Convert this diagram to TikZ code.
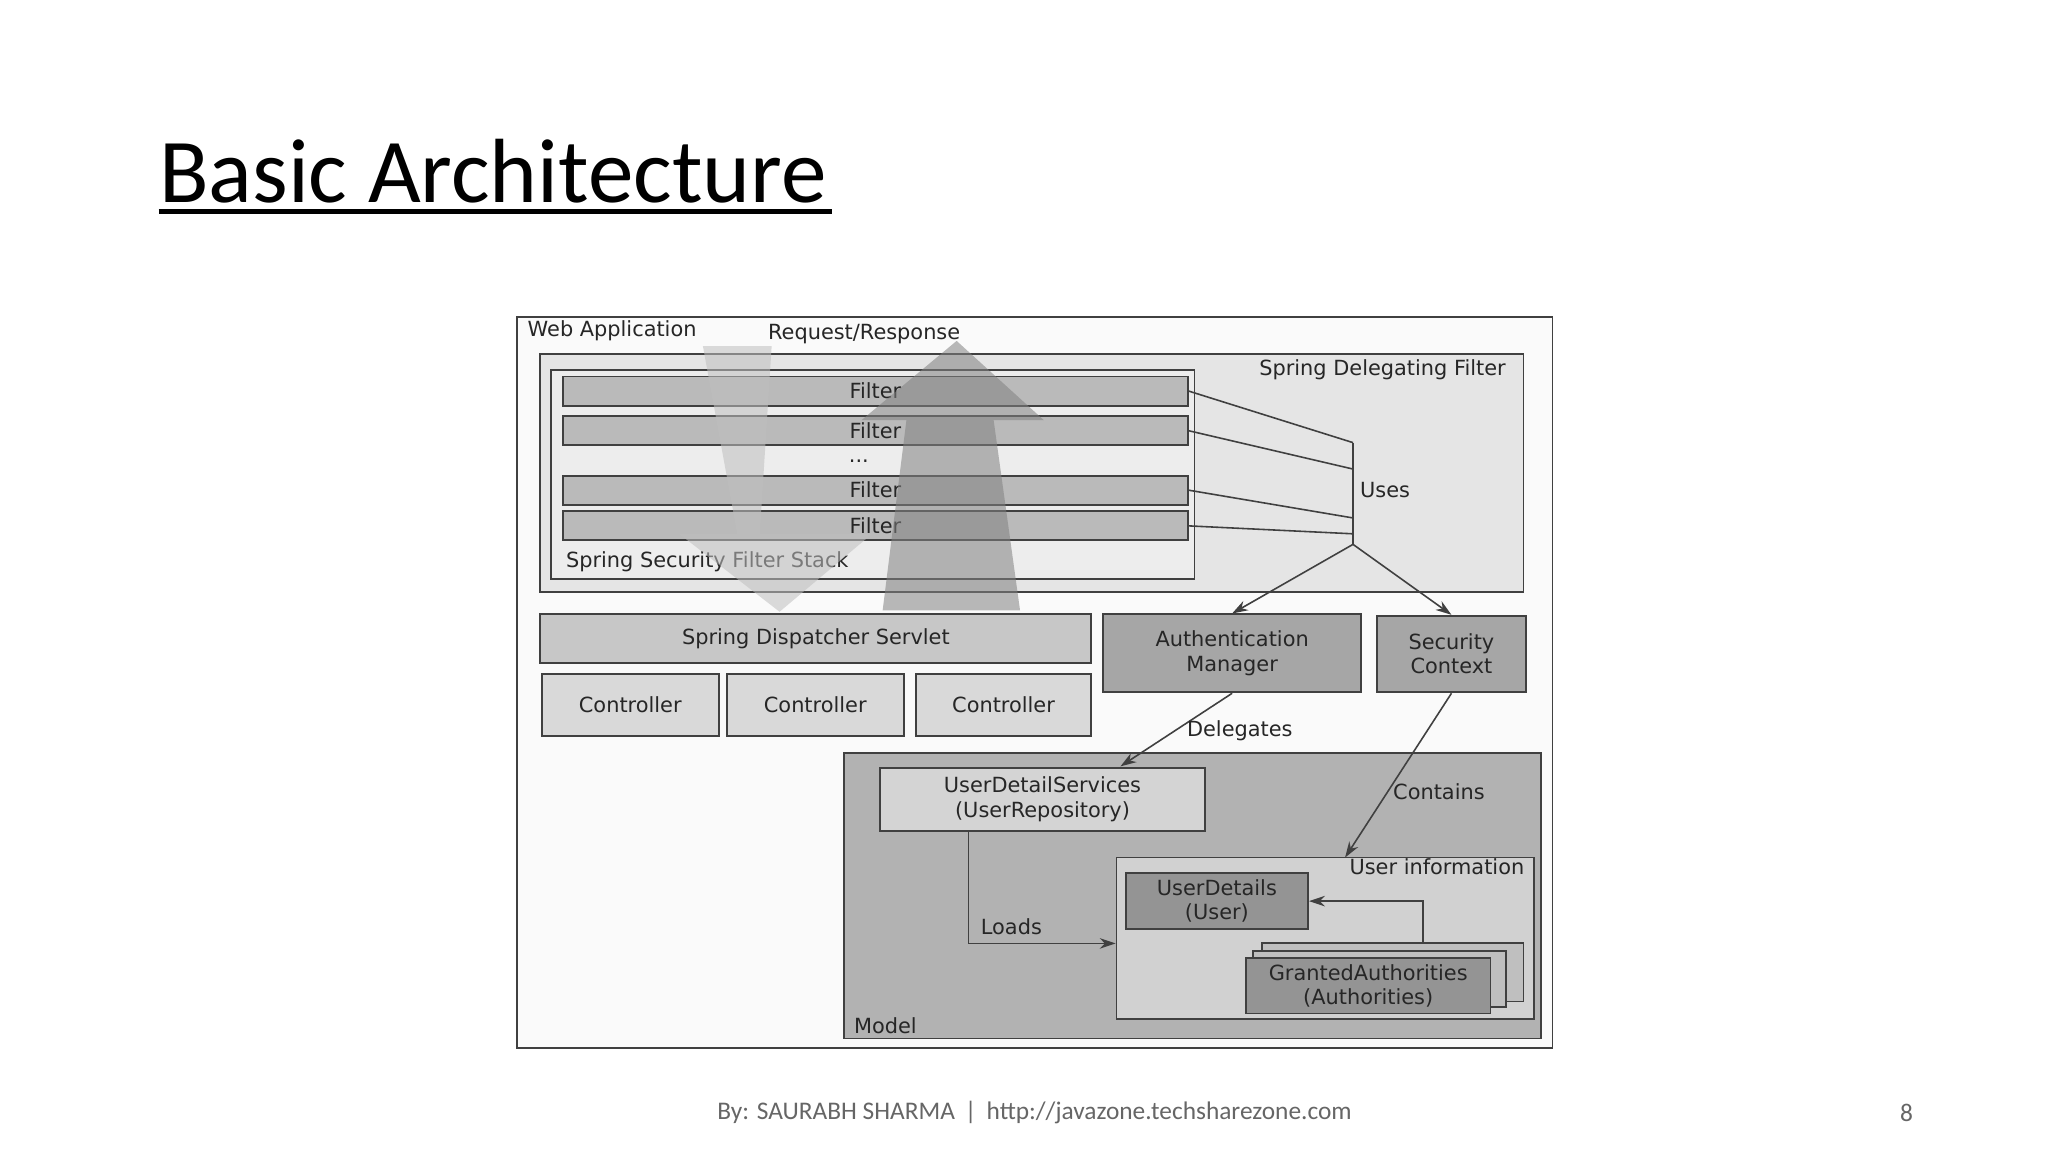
\documentclass[tikz,border=0pt]{standalone}
\usepackage{fontspec}
\setmainfont{DejaVu Sans}
\newfontfamily\carl{Carlito}
\usetikzlibrary{arrows.meta}
\begin{document}
\begin{tikzpicture}[x=0.5pt,y=-0.5pt,
  bx/.style={draw=black!75,line width=0.7pt},
  lbl/.style={font=\fontsize{7.9}{9.2}\selectfont,text=black!85,inner sep=1pt},
  ln/.style={draw=black!75,line width=0.6pt},
  ar/.style={ln,-{Stealth[length=6pt,width=4pt]}}]
\useasboundingbox (0,0) rectangle (1550,872);
\fill[white] (0,0) rectangle (1550,872);
% title
\node[anchor=base west,inner sep=0,font=\carl\fontsize{34.5}{40}\selectfont] (title) at (120,153) {Basic Architecture};
\draw[line width=1.6pt] (title.base west)++(0,7) -- ++(510,0);
% boxes
\draw[bx,fill=black!2] (391,240) rectangle (1175,793);
\node[lbl,anchor=west] (wa) at (397,250) {Web Application};
\draw[bx,fill=black!10] (409,268) rectangle (1153,448);
\node[lbl,anchor=east] (sdf) at (1142,280) {Spring Delegating Filter};
\draw[bx,fill=black!7] (417,280) rectangle (904,438);
\foreach \n/\a/\b in {f1/285/307,f2/315/337,f3/360/382,f4/387/409}{
  \node[bx,fill=black!27,minimum width=473*0.5pt,minimum height=(\b-\a)*0.5pt,lbl,inner sep=0] (\n) at (662.5,{(\a+\b)/2}) {Filter};
}
\node[lbl] (dots) at (650,349) {...};
\node[lbl,anchor=west] (sss) at (426,425) {Spring Security Filter Stack};
% Uses
\coordinate (u1) at (1024,335); \coordinate (u2) at (1024,355);
\coordinate (u3) at (1024,392); \coordinate (u4) at (1024,404);
\coordinate (ub) at (1024,412);
\draw[ln] (f1.east) -- (u1); \draw[ln] (f2.east) -- (u2);
\draw[ln] (f3.east) -- (u3); \draw[ln] (f4.east) -- (u4);
\draw[ln] (u1) -- (ub);
\node[lbl,anchor=west] (uses) at (1027,371) {Uses};
% dispatcher & controllers
\node[bx,fill=black!22,minimum width=417*0.5pt,minimum height=37*0.5pt,lbl] (sds) at (617.5,483.5) {Spring Dispatcher Servlet};
\node[bx,fill=black!15,minimum width=134*0.5pt,minimum height=47*0.5pt,lbl] (c1) at (477,533.5) {Controller};
\node[bx,fill=black!15,minimum width=134*0.5pt,minimum height=47*0.5pt,lbl] (c2) at (617,533.5) {Controller};
\node[bx,fill=black!15,minimum width=133*0.5pt,minimum height=47*0.5pt,lbl] (c3) at (759.5,533.5) {Controller};
% auth/security
\node[bx,fill=black!35,minimum width=195*0.5pt,minimum height=59*0.5pt,lbl,align=center] (am) at (932.5,494.5) {Authentication\\Manager};
\node[bx,fill=black!35,minimum width=113*0.5pt,minimum height=58*0.5pt,lbl,align=center] (sc) at (1098.5,495) {Security\\Context};
\draw[ar] (ub) -- (am.north);
\draw[ar] (ub) -- (sc.north);
% big arrows
\fill[black!25,opacity=0.55] (532,262) -- (584,262) -- (575,404) -- (660,404) -- (590,463) -- (514,404) -- (558,404) -- cycle;
\fill[black!50,opacity=0.55] (668,462) -- (772,462) -- (752,318) -- (790,318) -- (724,258) -- (652,318) -- (686,318) -- cycle;
\node[lbl] (rr) at (654,253) {Request/Response};
% model
\draw[bx,fill=black!30] (639,570) rectangle (1166,786);
\node[lbl,anchor=west] (model) at (644,776) {Model};
\node[bx,fill=black!17,minimum width=246*0.5pt,minimum height=48*0.5pt,lbl,align=center] (uds) at (789,605) {UserDetailServices\\(UserRepository)};
\node[bx,fill=black!18,minimum width=316*0.5pt,minimum height=122*0.5pt] (ui) at (1003,710) {};
\node[lbl,anchor=east] (uil) at (1156,656) {User information};
\node[bx,fill=black!42,minimum width=138*0.5pt,minimum height=42*0.5pt,lbl,align=center] (ud) at (921,682) {UserDetails\\(User)};
\draw[bx,fill=black!25] (955,714) rectangle (1153,758);
\draw[bx,fill=black!25] (948,720) rectangle (1140,762);
\node[bx,fill=black!42,minimum width=185*0.5pt,minimum height=42*0.5pt,lbl,align=center] (ga) at (1035.5,746) {GrantedAuthorities\\(Authorities)};
\draw[ar] (1077,714) |- (ud.east);
\draw[ar] (uds.south -| 733,0) |- (ui.west |- 0,714);
\node[lbl,anchor=west] (loads) at (740,701) {Loads};
\draw[ar] (am.south) -- (848,580);
\node[lbl,anchor=west] (del) at (896,553) {Delegates};
\draw[ar] (sc.south) -- (1018,649);
\node[lbl,anchor=west] (cont) at (1052,599) {Contains};
% footer
\node[font=\carl\fontsize{9.6}{11}\selectfont,text=black!60] (foot) at (783,842) {By: SAURABH SHARMA \,|\, http://javazone.techsharezone.com};
\node[font=\carl\fontsize{9.6}{11}\selectfont,text=black!60] (pg) at (1443,842) {8};
\end{tikzpicture}
\end{document}
